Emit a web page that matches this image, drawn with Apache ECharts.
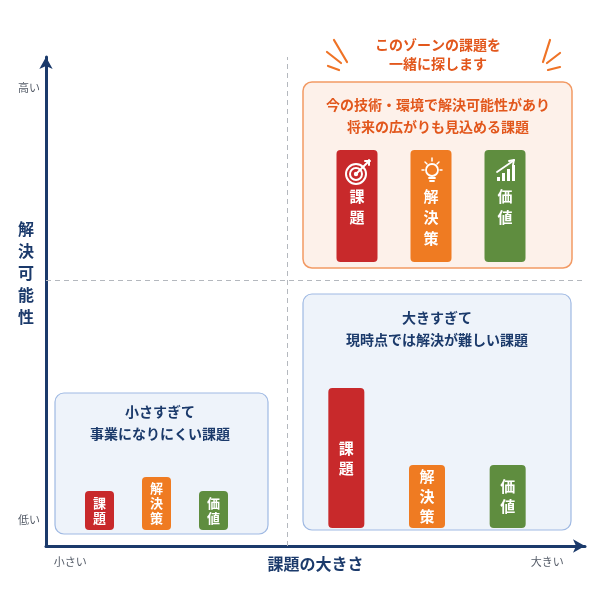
<!DOCTYPE html>
<html>
<head>
<meta charset="utf-8">
<script src="https://cdn.jsdelivr.net/npm/echarts@6/dist/echarts.min.js"></script>
<style>
  html, body { margin: 0; padding: 0; background: #ffffff; }
  #chart { width: 600px; height: 600px; }
</style>
</head>
<body>
<div id="chart"></div>
<script>
// data
var barNames = ['課題', '解決策', '価値'];
var topRightValues = [8, 8, 8];          // 解決可能性が高く、ちょうど良い大きさ
var bottomRightValues = [10, 4.5, 4.5];  // 大きすぎる課題
var bottomLeftValues = [2.8, 3.8, 2.8];  // 小さすぎる課題
var yTickValues = [5.3, 93.7];
var yTickLabels = ['低い', '高い'];
var xTickValues = [4.5, 93];
var xTickLabels = ['小さい', '大きい'];
var dividerX = 44.7;
var dividerY = 54.4;

var NAVY = '#1b3a6b';
var ORANGE_TXT = '#e2571c';
var barColors = ['#c8292b', '#ef7b22', '#5f8d3f'];
var FONT = '"Noto Sans CJK JP", "Noto Sans", sans-serif';

var chart = echarts.init(document.getElementById('chart'));

function vertical(s) { return s.split('').join('\n'); }

function barSeries(idx, values, fontSize, lineHeight, topLabel) {
  return {
    type: 'bar',
    xAxisIndex: idx,
    yAxisIndex: idx,
    barWidth: idx === 1 ? 41 : (idx === 2 ? 36 : 29),
    z: 5,
    data: values.map(function (v, i) {
      return { value: v, itemStyle: { color: barColors[i], borderRadius: 4 } };
    }),
    label: {
      show: true,
      position: topLabel ? 'insideTop' : 'inside',
      distance: topLabel ? 36 : 5,
      color: '#ffffff',
      fontFamily: FONT,
      fontWeight: 'bold',
      fontSize: fontSize,
      lineHeight: lineHeight,
      formatter: function (p) { return vertical(barNames[p.dataIndex]); }
    },
    silent: true
  };
}

function line(x1, y1, x2, y2, color, w) {
  return { type: 'line', shape: { x1: x1, y1: y1, x2: x2, y2: y2 },
    style: { stroke: color, lineWidth: w || 2, lineCap: 'round' }, z: 10 };
}

var W = '#ffffff';
var sun = '#ef7326';

chart.setOption({
  backgroundColor: '#ffffff',
  animation: false,
  grid: [
    { left: 46, right: 15, top: 57, bottom: 54, outerBoundsMode: 'none' },
    { left: 320, top: 150, width: 222, height: 112, outerBoundsMode: 'none' },
    { left: 306, top: 388, width: 242, height: 140, outerBoundsMode: 'none' },
    { left: 71, top: 477, width: 171, height: 53, outerBoundsMode: 'none' }
  ],
  xAxis: [
    {
      type: 'value', gridIndex: 0, min: 0, max: 100,
      name: '課題の大きさ', nameLocation: 'middle', nameGap: 10, nameMoveOverlap: false,
      nameTextStyle: { color: NAVY, fontSize: 16, fontWeight: 'bold', fontFamily: FONT },
      axisLine: { lineStyle: { color: NAVY, width: 3 }, symbol: ['none', 'arrow'], symbolSize: [10, 12] },
      axisTick: { show: false },
      splitLine: { show: false },
      axisLabel: {
        customValues: xTickValues, margin: 10, color: '#555c68', fontSize: 11, fontFamily: FONT,
        formatter: function (v) { return xTickLabels[xTickValues.indexOf(v)] || ''; }
      }
    },
    { type: 'category', gridIndex: 1, data: barNames, show: false },
    { type: 'category', gridIndex: 2, data: barNames, show: false },
    { type: 'category', gridIndex: 3, data: barNames, show: false }
  ],
  yAxis: [
    {
      type: 'value', gridIndex: 0, min: 0, max: 100,
      axisLine: { lineStyle: { color: NAVY, width: 3 }, symbol: ['none', 'arrow'], symbolSize: [10, 12] },
      axisTick: { show: false },
      splitLine: { show: false },
      axisLabel: {
        customValues: yTickValues, margin: 6, color: '#555c68', fontSize: 11, fontFamily: FONT,
        formatter: function (v) { return yTickLabels[yTickValues.indexOf(v)] || ''; }
      }
    },
    { type: 'value', gridIndex: 1, min: 0, max: 8, show: false },
    { type: 'value', gridIndex: 2, min: 0, max: 10, show: false },
    { type: 'value', gridIndex: 3, min: 0, max: 3.8, show: false }
  ],
  series: [
    {
      type: 'scatter', xAxisIndex: 0, yAxisIndex: 0, data: [], silent: true,
      markLine: {
        silent: true, symbol: 'none', label: { show: false },
        lineStyle: { color: '#b4b8be', type: [5, 4], width: 1 },
        data: [{ xAxis: dividerX }, { yAxis: dividerY }]
      }
    },
    barSeries(1, topRightValues, 15, 21, true),
    barSeries(2, bottomRightValues, 15, 20, false),
    barSeries(3, bottomLeftValues, 13, 15, false)
  ],
  graphic: [
    // quadrant boxes
    { type: 'rect', shape: { x: 303, y: 82, width: 269, height: 186, r: 9 }, z: 1,
      style: { fill: '#fdf1ea', stroke: '#f29a64', lineWidth: 1.5 } },
    { type: 'rect', shape: { x: 303, y: 294, width: 268, height: 236, r: 9 }, z: 1,
      style: { fill: '#eef3fa', stroke: '#9fb9e3', lineWidth: 1.2 } },
    { type: 'rect', shape: { x: 55, y: 393, width: 213, height: 141, r: 9 }, z: 1,
      style: { fill: '#eef3fa', stroke: '#9fb9e3', lineWidth: 1.2 } },
    // y axis name
    { type: 'text', x: 26, y: 273, z: 10, style: { text: vertical('解決可能性'),
      fill: NAVY, font: 'bold 16px ' + FONT, align: 'center', verticalAlign: 'middle', lineHeight: 22 } },
    // texts
    { type: 'text', x: 438, y: 54, z: 10, style: { text: 'このゾーンの課題を\n一緒に探します',
      fill: ORANGE_TXT, font: 'bold 14px ' + FONT, align: 'center', verticalAlign: 'middle', lineHeight: 19 } },
    { type: 'text', x: 438, y: 116, z: 10, style: { text: '今の技術・環境で解決可能性があり\n将来の広がりも見込める課題',
      fill: ORANGE_TXT, font: 'bold 14px ' + FONT, align: 'center', verticalAlign: 'middle', lineHeight: 22 } },
    { type: 'text', x: 437, y: 329, z: 10, style: { text: '大きすぎて\n現時点では解決が難しい課題',
      fill: NAVY, font: 'bold 14px ' + FONT, align: 'center', verticalAlign: 'middle', lineHeight: 22 } },
    { type: 'text', x: 160, y: 423, z: 10, style: { text: '小さすぎて\n事業になりにくい課題',
      fill: NAVY, font: 'bold 14px ' + FONT, align: 'center', verticalAlign: 'middle', lineHeight: 22 } },
    // sunburst strokes
    line(334, 40, 347, 62, sun, 2.2), line(327, 52, 341, 63, sun, 2.2), line(328, 66, 339, 70, sun, 2.2),
    line(550, 40, 543, 62, sun, 2.2), line(560, 53, 547, 63, sun, 2.2), line(560, 67, 548, 70, sun, 2.2),
    // icon: target
    { type: 'circle', shape: { cx: 356, cy: 174, r: 10 }, z: 10, style: { fill: 'none', stroke: W, lineWidth: 2 } },
    { type: 'circle', shape: { cx: 356, cy: 174, r: 6 }, z: 10, style: { fill: 'none', stroke: W, lineWidth: 2 } },
    { type: 'circle', shape: { cx: 356, cy: 174, r: 2.2 }, z: 10, style: { fill: W } },
    line(357, 173, 368, 162, W, 2), line(365, 161, 370, 161, W, 2), line(369, 160, 369, 165, W, 2),
    // icon: bulb
    { type: 'circle', shape: { cx: 432, cy: 170, r: 6 }, z: 10, style: { fill: 'none', stroke: W, lineWidth: 1.8 } },
    line(429, 178, 435, 178, W, 1.8), line(430, 181, 434, 181, W, 1.8),
    line(432, 158, 432, 161, W, 1.5), line(422, 170, 424, 170, W, 1.5), line(440, 170, 442, 170, W, 1.5),
    line(425, 162, 427, 164, W, 1.5), line(439, 162, 437, 164, W, 1.5),
    // icon: chart
    { type: 'rect', shape: { x: 497, y: 177, width: 3, height: 4 }, z: 10, style: { fill: W } },
    { type: 'rect', shape: { x: 502, y: 173, width: 3, height: 8 }, z: 10, style: { fill: W } },
    { type: 'rect', shape: { x: 507, y: 169, width: 3, height: 12 }, z: 10, style: { fill: W } },
    { type: 'rect', shape: { x: 512, y: 165, width: 3, height: 16 }, z: 10, style: { fill: W } },
    line(497, 172, 513, 161, W, 1.8), line(509, 161, 514, 160, W, 1.8), line(514, 160, 513, 165, W, 1.8)
  ]
});
</script>
</body>
</html>
